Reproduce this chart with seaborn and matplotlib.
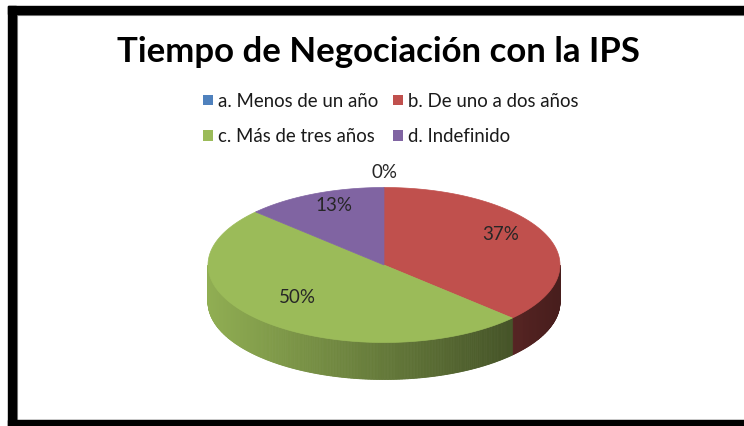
import numpy as np
import matplotlib
matplotlib.use("Agg")
import matplotlib.pyplot as plt
import seaborn as sns
from matplotlib.patches import Polygon, Rectangle, Patch

# ---- data ----
categories = ["a. Menos de un año", "b. De uno a dos años",
              "c. Más de tres años", "d. Indefinido"]
percentages = [0, 37, 50, 13]
title = "Tiempo de Negociación con la IPS"
palette_hex = ["#4F81BD", "#C0504D", "#9BBB59", "#8064A2"]

sns.set_theme(style="white")
plt.rcParams['font.family'] = ['Lato', 'DejaVu Sans']
colors = sns.color_palette(palette_hex)

W, H = 744, 426
fig = plt.figure(figsize=(W / 100, H / 100), dpi=100)
ax = fig.add_axes([0, 0, 1, 1])
ax.set_xlim(0, W)
ax.set_ylim(H, 0)
ax.axis("off")

# frame
ax.add_patch(Rectangle((8, 6), 8, 420, color="black", zorder=10))
ax.add_patch(Rectangle((8, 6), 736, 8, color="black", zorder=10))
ax.add_patch(Rectangle((8, 420), 736, 6, color="black", zorder=10))
ax.plot([17, 17, W], [H - 6, 15, 15], color="#8c8c8c", lw=0.8, zorder=9)
ax.plot([17, W], [419.5, 419.5], color="#8c8c8c", lw=0.8, zorder=9)

# pie geometry
cx, cy, rx, ry, depth = 384, 265, 176, 77.5, 37

def pt(t):
    r = np.radians(t)
    return cx + rx * np.cos(r), cy - ry * np.sin(r)

fr = np.array(percentages, dtype=float) / sum(percentages)
starts = 90 - 360 * np.concatenate([[0], np.cumsum(fr)[:-1]])
ends = starts - 360 * fr

# side walls (visible front half: angles in [-180, 0])
for i in range(len(categories)):
    if fr[i] == 0:
        continue
    a0, a1 = starts[i], ends[i]  # a0 > a1
    for shift in (0, -360, 360):
        lo = max(a1 + shift, -180)
        hi = min(a0 + shift, 0)
        if hi <= lo:
            continue
        ts = np.linspace(hi, lo, max(2, int((hi - lo) * 2)))
        base = np.array(colors[i])
        for t0, t1 in zip(ts[:-1], ts[1:]):
            tm = np.radians((t0 + t1) / 2)
            f = 0.65 - 0.28 * np.cos(tm)
            c = np.clip(base * f, 0, 1)
            x0, y0 = pt(t0)
            x1, y1 = pt(t1)
            poly = Polygon([(x0, y0), (x1, y1), (x1, y1 + depth), (x0, y0 + depth)],
                           closed=True, facecolor=c, edgecolor=c, lw=0.6, zorder=2)
            ax.add_patch(poly)

# top face
for i in range(len(categories)):
    if fr[i] == 0:
        continue
    ts = np.linspace(starts[i], ends[i], 200)
    xs, ys = pt(ts)
    verts = [(cx, cy)] + list(zip(xs, ys))
    ax.add_patch(Polygon(verts, closed=True, facecolor=colors[i],
                         edgecolor=colors[i], lw=0.5, zorder=3))

# labels
for i in range(len(categories)):
    mid = (starts[i] + ends[i]) / 2
    r = 0.72 if fr[i] > 0 else 1.19
    r_ = np.radians(mid)
    x = cx + r * rx * np.cos(r_)
    y = cy - r * ry * np.sin(r_) - (8 if fr[i] > 0 else 0)
    ax.text(x, y, f"{percentages[i]}%", ha="center", va="center",
            fontsize=13.5, color="#262626", zorder=5)

# title
ax.text(378, 52, title, ha="center", va="center", fontsize=25,
        fontweight="bold", color="black", zorder=5)

# legend
handles = [Patch(facecolor=colors[i], edgecolor="none") for i in range(len(categories))]
order = [0, 2, 1, 3]
leg = ax.legend([handles[i] for i in order], [categories[i] for i in order],
                ncol=2, loc="center", bbox_to_anchor=(391 / W, 1 - 119 / H),
                frameon=False, fontsize=13.4, handlelength=0.5, handleheight=0.5,
                handletextpad=0.3, columnspacing=0.8, labelspacing=1.0,
                labelcolor="#1a1a1a")

fig.savefig("out.png", dpi=100)
